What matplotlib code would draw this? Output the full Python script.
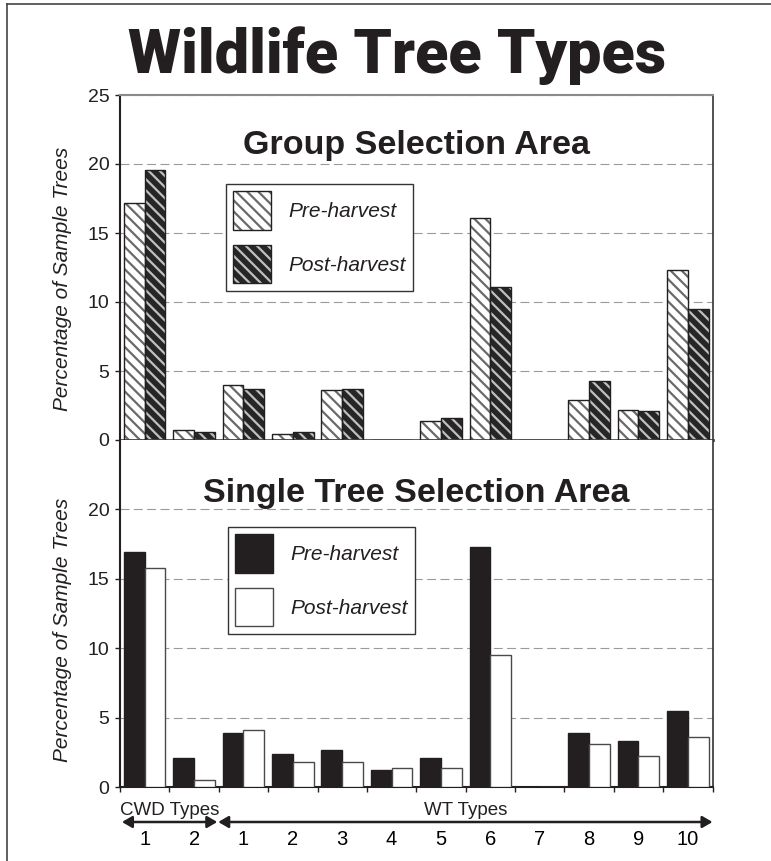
import numpy as np
import matplotlib
matplotlib.use('Agg')
import matplotlib.pyplot as plt
from matplotlib.patches import Patch
from matplotlib.lines import Line2D
from matplotlib import transforms

plt.rcParams['font.family'] = ['Liberation Sans', 'DejaVu Sans']
plt.rcParams['hatch.linewidth'] = 1.6
plt.rcParams['text.color'] = '#231f20'

# ---------------- data ----------------
cat_labels = ['1', '2', '1', '2', '3', '4', '5', '6', '7', '8', '9', '10']
group_pre = [17.2, 0.7, 4.0, 0.4, 3.6, 0.0, 1.4, 16.1, 0.0, 2.9, 2.2, 12.3]
group_post = [19.6, 0.6, 3.7, 0.6, 3.7, 0.0, 1.6, 11.1, 0.0, 4.3, 2.1, 9.5]
single_pre = [16.9, 2.1, 3.9, 2.4, 2.7, 1.2, 2.1, 17.3, 0.0, 3.9, 3.3, 5.5]
single_post = [15.8, 0.5, 4.1, 1.8, 1.8, 1.4, 1.4, 9.5, 0.0, 3.1, 2.2, 3.6]
series_labels = ['Pre-harvest', 'Post-harvest']

DARK = '#231f20'
W, H = 771, 861
x = np.arange(len(cat_labels))
bw = 0.42
HATCH = '\\\\\\'

fig = plt.figure(figsize=(W / 100, H / 100), dpi=100)

L = 120 / W
AW = (712.5 - 120) / W
ax1 = fig.add_axes([L, 1 - 440 / H, AW, (440 - 95) / H])
ax2 = fig.add_axes([L, 1 - 787 / H, AW, (787 - 440) / H])


def hatched(ax, xs, vals, face, hcol):
    ax.bar(xs, vals, bw, color=face, edgecolor=hcol, linewidth=0, hatch=HATCH, zorder=2)
    ax.bar(xs, vals, bw, fill=False, edgecolor=DARK, linewidth=1.0, zorder=3)


# top panel: hatched bars
hatched(ax1, x - bw / 2, group_pre, 'white', '#6a6a6a')
hatched(ax1, x + bw / 2, group_post, '#262626', '#c0c0c0')

# bottom panel: solid bars
ax2.bar(x - bw / 2, single_pre, bw, color=DARK, edgecolor=DARK, linewidth=1.0, zorder=3)
ax2.bar(x + bw / 2, single_post, bw, color='white', edgecolor='#4a4a4a', linewidth=1.0, zorder=3)

for ax in (ax1, ax2):
    ax.set_xlim(-0.5, 11.5)
    ax.set_ylim(0, 25)
    ax.set_axisbelow(True)
    ax.yaxis.grid(True, color='#9a9a9a', linestyle=(0, (8, 4)), linewidth=0.8)
    ax.tick_params(axis='y', direction='out', length=3.6, width=1, labelsize=14,
                   pad=4, colors=DARK)
    ax.spines['left'].set_color(DARK)
    ax.spines['left'].set_linewidth(1.5)
    ax.spines['right'].set_color('#333333')
    ax.spines['right'].set_linewidth(1.2)

ax1.set_yticks([0, 5, 10, 15, 20, 25])
ax2.set_yticks([0, 5, 10, 15, 20])
ax1.set_xticks([])
ax1.spines['top'].set_color('#8a8a8a')
ax1.spines['top'].set_linewidth(1.5)
ax1.spines['bottom'].set_color('#4d4d4d')
ax1.spines['bottom'].set_linewidth(2)
ax2.spines['top'].set_visible(False)
ax2.spines['bottom'].set_color(DARK)
ax2.spines['bottom'].set_linewidth(1.5)

# x ticks: boundaries (major) and category numbers (minor)
ax2.set_xticks(np.arange(-0.5, 12, 1))
ax2.set_xticklabels([])
ax2.set_xticks(x, minor=True)
ax2.set_xticklabels(cat_labels, minor=True, fontsize=14.5)
ax2.tick_params(axis='x', which='major', direction='out', length=3.6, width=1, colors=DARK)
ax2.tick_params(axis='x', which='minor', length=0, pad=31)

# subtitles
ax1.text(5.5, 20.7, 'Group Selection Area', ha='center', va='baseline',
         fontsize=24.5, fontweight='bold')
ax2.text(5.5, 20.5, 'Single Tree Selection Area', ha='center', va='baseline',
         fontsize=24.5, fontweight='bold')

# legends
leg_kw = dict(loc='upper left', bbox_transform=fig.transFigure, borderaxespad=0,
              prop={'style': 'italic', 'size': 15}, handlelength=1.8, handleheight=2.45,
              labelspacing=0.75, handletextpad=0.85, borderpad=0.35, fancybox=False,
              edgecolor='#333333', framealpha=1)
h_pre = (Patch(facecolor='white', edgecolor='#6a6a6a', hatch=HATCH, linewidth=0),
         Patch(fill=False, edgecolor=DARK, linewidth=1.0))
h_post = (Patch(facecolor='#262626', edgecolor='#c0c0c0', hatch=HATCH, linewidth=0),
          Patch(fill=False, edgecolor=DARK, linewidth=1.0))
lg1 = ax1.legend([h_pre, h_post], series_labels,
                 bbox_to_anchor=(226 / W, 1 - 184 / H), **leg_kw)
lg1.get_frame().set_linewidth(1.0)
s_pre = Patch(facecolor=DARK, edgecolor=DARK, linewidth=1.0)
s_post = Patch(facecolor='white', edgecolor='#4a4a4a', linewidth=1.0)
lg2 = ax2.legend([s_pre, s_post], series_labels,
                 bbox_to_anchor=(228 / W, 1 - 527 / H), **leg_kw)
lg2.get_frame().set_linewidth(1.0)

# y labels
for yc in (279, 630):
    fig.text(63 / W, 1 - yc / H, 'Percentage of Sample Trees', rotation=90,
             ha='center', va='center', fontsize=15, style='italic')

# group labels and arrows below the x axis
tr = transforms.blended_transform_factory(ax2.transData, fig.transFigure)
ax2.text(0.5, 1 - 815 / H, 'CWD Types', transform=tr, ha='center', va='baseline',
         fontsize=13.5)
ax2.text(6.5, 1 - 815 / H, 'WT Types', transform=tr, ha='center', va='baseline',
         fontsize=13.5)
arrow_kw = dict(arrowstyle='<|-|>,head_length=0.6,head_width=0.35', color=DARK,
                lw=1.8, shrinkA=0, shrinkB=0)
y_arr = 1 - 822 / H
ax2.annotate('', xy=(1.47, y_arr), xytext=(-0.46, y_arr), xycoords=tr, textcoords=tr,
             arrowprops=arrow_kw, annotation_clip=False)
ax2.annotate('', xy=(11.5, y_arr), xytext=(1.49, y_arr), xycoords=tr, textcoords=tr,
             arrowprops=arrow_kw, annotation_clip=False)

# main title
fig.text(397 / W, 1 - 73 / H, 'Wildlife Tree Types', ha='center', va='baseline',
         fontsize=44, fontweight='black', family=['Roboto', 'Liberation Sans', 'DejaVu Sans'])

# outer frame (top and left edges only)
fig.add_artist(Line2D([7 / W, 1], [1 - 4 / H, 1 - 4 / H], transform=fig.transFigure,
                      color='#444444', lw=1.2))
fig.add_artist(Line2D([7 / W, 7 / W], [0, 1 - 4 / H], transform=fig.transFigure,
                      color='#444444', lw=1.2))

fig.savefig('out.png', dpi=100)
